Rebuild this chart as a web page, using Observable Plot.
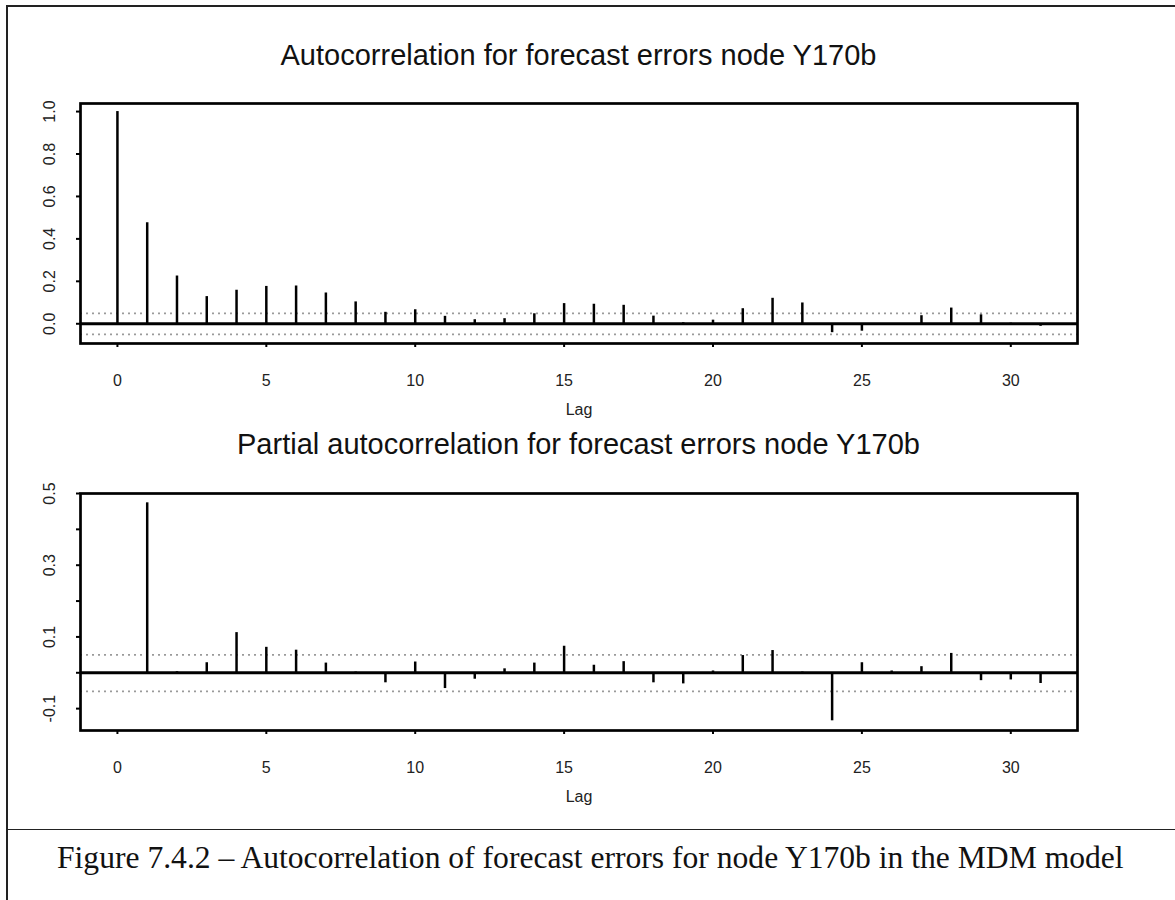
<!DOCTYPE html>
<html>
<head>
<meta charset="utf-8">
<script src="https://cdn.jsdelivr.net/npm/d3@7"></script>
<script src="https://cdn.jsdelivr.net/npm/@observablehq/plot@0.6"></script>
<style>
  body { margin: 0; background: #fff; }
  #page { position: relative; width: 1175px; height: 900px; overflow: hidden; background: #fff;
          font-family: "Liberation Sans", Arial, Helvetica, sans-serif; }
  .panel { position: absolute; left: 0; }
  .title { position: absolute; left: 80px; width: 997px; text-align: center; font-size: 29px;
           line-height: 29px; color: #111; white-space: nowrap; }
  .caption { position: absolute; left: 57px; top: 841.5px; font-family: "Liberation Serif", "Times New Roman", serif;
             font-size: 31.6px; line-height: 31.6px; color: #111; white-space: nowrap; }
  .line { position: absolute; background: #222; }
</style>
</head>
<body>
<div id="page">
  <div class="line" style="left:6px;top:5px;width:1.5px;height:895px;"></div>
  <div class="line" style="left:6px;top:5px;width:1169px;height:1.5px;"></div>
  <div class="line" style="left:7px;top:828.5px;width:1168px;height:1.5px;"></div>
  <div id="p1" class="panel" style="top:0px;"></div>
  <div id="p2" class="panel" style="top:430px;"></div>
  <div class="title" style="top:40.5px;">Autocorrelation for forecast errors node Y170b</div>
  <div class="title" style="top:429.7px;">Partial autocorrelation for forecast errors node Y170b</div>
  <div class="caption">Figure 7.4.2 – Autocorrelation of forecast errors for node Y170b in the MDM model</div>
</div>
<script>
// ---- data ----
const acfLags = [0,1,2,3,4,5,6,7,8,9,10,11,12,13,14,15,16,17,18,19,20,21,22,23,24,25,26,27,28,29,30,31];
const acfValues = [1.0,0.476,0.225,0.128,0.158,0.176,0.178,0.145,0.103,0.054,0.066,0.035,0.019,0.024,0.047,0.095,
                   0.092,0.087,0.036,0.005,0.017,0.071,0.120,0.098,-0.042,-0.035,-0.003,0.038,0.074,0.042,0.003,-0.012];
const pacfLags = [1,2,3,4,5,6,7,8,9,10,11,12,13,14,15,16,17,18,19,20,21,22,23,24,25,26,27,28,29,30,31];
const pacfValues = [0.474,0.003,0.028,0.112,0.071,0.063,0.027,0.002,-0.028,0.030,-0.044,-0.018,0.011,0.027,0.074,
                    0.021,0.031,-0.028,-0.031,0.005,0.048,0.062,0.002,-0.134,0.028,0.005,0.017,0.054,-0.022,-0.020,-0.030];
const acfBounds = [0.049, -0.050];
const pacfBounds = [0.050, -0.052];
const xTicks = [0,5,10,15,20,25,30];
const acfYTicks = [0,0.2,0.4,0.6,0.8,1.0];
const acfYLabelValues = [0,0.2,0.4,0.6,0.8,1.0];
const acfYLabels = ["0.0","0.2","0.4","0.6","0.8","1.0"];
const pacfYTicks = [-0.1,0,0.1,0.2,0.3,0.4,0.5];
const pacfYLabelValues = [-0.1,0.1,0.3,0.5];
const pacfYLabels = ["-0.1","0.1","0.3","0.5"];
const xDomain = [-1.24, 32.24];
const acfYDomain = [-0.093, 1.038];
const pacfYDomain = [-0.161, 0.5];
const xLabel = "Lag";

function panel({lags, values, bounds, yDomain, yTicks, yLabelValues, yLabels, height, marginTop, marginBottom}) {
  const data = lags.map((l, i) => ({lag: l, value: values[i]}));
  const yLab = yLabelValues.map((v, i) => ({v, t: yLabels[i]}));
  return Plot.plot({
    width: 1175, height, marginLeft: 80, marginRight: 98, marginTop, marginBottom,
    style: {background: "transparent", fontFamily: "'Liberation Sans', Arial, sans-serif", color: "#111"},
    x: {domain: xDomain, label: null},
    y: {domain: yDomain, label: null},
    marks: [
      Plot.ruleY(bounds, {stroke: "#9a9a9a", strokeWidth: 1.6, strokeDasharray: "2,4"}),
      Plot.ruleY([0], {stroke: "#000", strokeWidth: 3}),
      Plot.ruleX(data, {x: "lag", y1: 0, y2: "value", stroke: "#000", strokeWidth: 2.5}),
      Plot.frame({stroke: "#000", strokeWidth: 2.7}),
      Plot.axisX({ticks: xTicks, tickSize: 4, tickPadding: 27, fontSize: 16, label: null,
                  stroke: "#000", strokeWidth: 2, fill: "#222"}),
      Plot.axisY({ticks: yTicks, tickSize: 4, label: null, fill: "none", stroke: "#000", strokeWidth: 2}),
      Plot.text(yLab, {y: "v", text: "t", frameAnchor: "left", dx: -31, rotate: -90,
                       textAnchor: "middle", lineAnchor: "middle", fontSize: 16, fill: "#222"}),
      Plot.text([xLabel], {text: d => d, frameAnchor: "bottom", dy: 66, lineAnchor: "middle",
                           fontSize: 16, fill: "#222"})
    ]
  });
}

document.getElementById("p1").appendChild(panel({
  lags: acfLags, values: acfValues, bounds: acfBounds, yDomain: acfYDomain,
  yTicks: acfYTicks, yLabelValues: acfYLabelValues, yLabels: acfYLabels,
  height: 430, marginTop: 103, marginBottom: 87
}));
document.getElementById("p2").appendChild(panel({
  lags: pacfLags, values: pacfValues, bounds: pacfBounds, yDomain: pacfYDomain,
  yTicks: pacfYTicks, yLabelValues: pacfYLabelValues, yLabels: pacfYLabels,
  height: 390, marginTop: 63, marginBottom: 90
}));
</script>
</body>
</html>
